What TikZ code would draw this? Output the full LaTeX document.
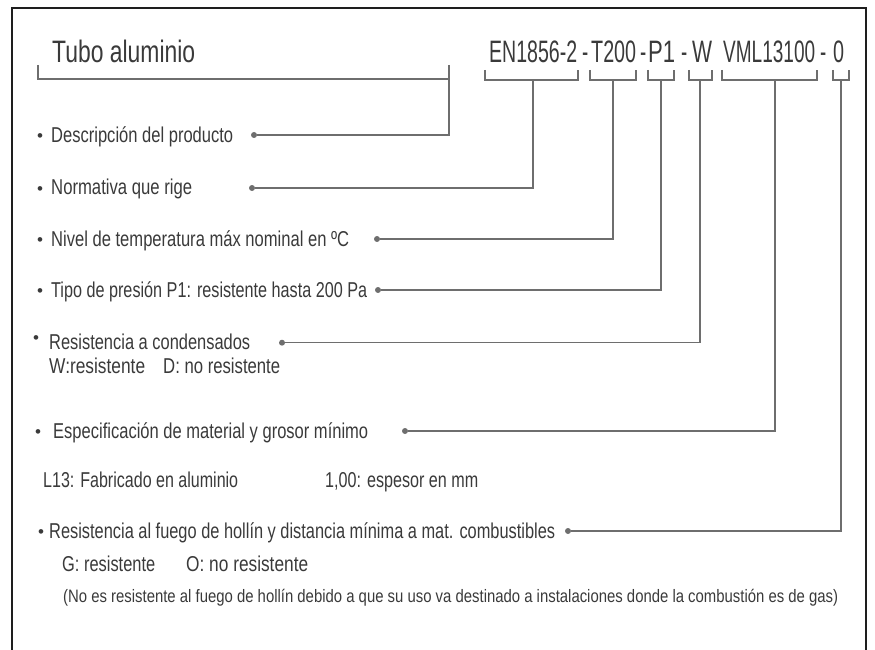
\documentclass[tikz,border=0pt]{standalone}
\usepackage{fontspec}
\setmainfont{Liberation Sans}
\usepackage{graphicx}
\newcommand{\fitw}[2]{\resizebox{#1}{\height}{#2}}
\definecolor{txtc}{HTML}{3A3A3A}
\definecolor{linec}{HTML}{6E6E6E}
\definecolor{framec}{HTML}{1E1E1E}
\begin{document}
\begin{tikzpicture}[x=1pt,y=-1pt,
  txt/.style={anchor=base west, inner sep=0pt, text=txtc, font=\fontsize{21.5}{26}\selectfont},
  big/.style={txt, font=\fontsize{31}{37}\selectfont},
  small/.style={txt, font=\fontsize{18}{22}\selectfont},
  bul/.style={anchor=base, inner sep=0pt, text=txtc, font=\fontsize{17}{20}\selectfont},
  dot/.style={circle, fill=linec, inner sep=0pt, minimum size=6pt},
  conn/.style={draw=linec, line width=1.4pt},
  frame/.style={draw=framec, line width=1.6pt}]
\useasboundingbox (0,0) rectangle (875,650);

% frame (open at the bottom)
\coordinate (fbl) at (12,651);
\coordinate (ftl) at (12,8);
\coordinate (ftr) at (866,8);
\coordinate (fbr) at (866,651);
\draw[frame] (fbl) -- (ftl) -- (ftr) -- (fbr);

% title and code
\node[big] (title) at (52,63) {\fitw{143pt}{Tubo aluminio}};
\node[big] (c1) at (489,63) {\fitw{88pt}{EN1856-2}};
\node[big] (h1) at (582,63) {\scalebox{0.6}[1]{-}};
\node[big] (c2) at (591,63) {\fitw{45pt}{T200}};
\node[big] (h2) at (640,63) {\scalebox{0.6}[1]{-}};
\node[big] (c3) at (648,63) {\fitw{27pt}{P1}};
\node[big] (h3) at (681,63) {\scalebox{0.6}[1]{-}};
\node[big] (c4) at (692,63) {\fitw{20pt}{W}};
\node[big] (c5) at (723,63) {\fitw{92pt}{VML13100}};
\node[big] (h4) at (820,63) {\scalebox{0.6}[1]{-}};
\node[big] (c6) at (833,63) {\fitw{11pt}{0}};

% brackets
\draw[conn] (38,65) -- (38,79) -- (449,79);
\draw[conn] (485,70) -- (485,80) -- (578,80) -- (578,70);
\draw[conn] (590,70) -- (590,80) -- (636,80) -- (636,70);
\draw[conn] (648,70) -- (648,80) -- (674,80) -- (674,70);
\draw[conn] (689,70) -- (689,80) -- (712,80) -- (712,70);
\draw[conn] (722,70) -- (722,80) -- (817,80) -- (817,70);
\draw[conn] (833,70) -- (833,80) -- (849,80) -- (849,70);
\coordinate (s0) at (449,65);
\coordinate (s1) at (533,80);
\coordinate (s2) at (613,80);
\coordinate (s3) at (661,80);
\coordinate (s4) at (700,80);
\coordinate (s5) at (775,80);
\coordinate (s6) at (841,80);

% dots
\node[dot] (d0) at (254,135) {};
\node[dot] (d1) at (252,188) {};
\node[dot] (d2) at (377,239) {};
\node[dot] (d3) at (378,290) {};
\node[dot] (d4) at (282,342.7) {};
\node[dot] (d5) at (405,431) {};
\node[dot] (d6) at (568,531) {};

% connectors
\draw[conn] (s0) |- (d0);
\draw[conn] (s1) |- (d1);
\draw[conn] (s2) |- (d2);
\draw[conn] (s3) |- (d3);
\draw[conn] (s4) |- (d4);
\draw[conn] (s5) |- (d5);
\draw[conn] (s6) |- (d6);

% bullets
\node[bul] (b0) at (40,141.8) {•};
\node[bul] (b1) at (40,194.8) {•};
\node[bul] (b2) at (40,245.8) {•};
\node[bul] (b3) at (40,296.8) {•};
\node[bul] (b4) at (36,343.8) {•};
\node[bul] (b5) at (38,437.8) {•};
\node[bul] (b6) at (41,537.8) {•};

% texts
\node[txt] (t0) at (51,142.5) {\fitw{182pt}{Descripción del producto}};
\node[txt] (t1) at (51,194.5) {\fitw{141pt}{Normativa que rige}};
\node[txt] (t2) at (51,246) {\fitw{298pt}{Nivel de temperatura máx nominal en ºC}};
\node[txt] (t3) at (51,297.5) {\fitw{316pt}{Tipo de presión P1: resistente hasta 200 Pa}};
\node[txt] (t4) at (49,349.5) {\fitw{201pt}{Resistencia a condensados}};
\node[txt] (t4a) at (49,373) {\fitw{96pt}{W:resistente}};
\node[txt] (t4b) at (163,373) {\fitw{117pt}{D: no resistente}};
\node[txt] (t5) at (53,438) {\fitw{315pt}{Especificación de material y grosor mínimo}};
\node[txt] (t5a) at (43,487.5) {\fitw{195pt}{L13: Fabricado en aluminio}};
\node[txt] (t5b) at (325,487.5) {\fitw{153pt}{1,00: espesor en mm}};
\node[txt] (t6) at (49,538.5) {\fitw{506pt}{Resistencia al fuego de hollín y distancia mínima a mat. combustibles}};
\node[txt] (t6a) at (62,571) {\fitw{93pt}{G: resistente}};
\node[txt] (t6b) at (186,571) {\fitw{122pt}{O: no resistente}};
\node[small] (t6c) at (63,602) {\fitw{775pt}{(No es resistente al fuego de hollín debido a que su uso va destinado a instalaciones donde la combustión es de gas)}};
\end{tikzpicture}
\end{document}
